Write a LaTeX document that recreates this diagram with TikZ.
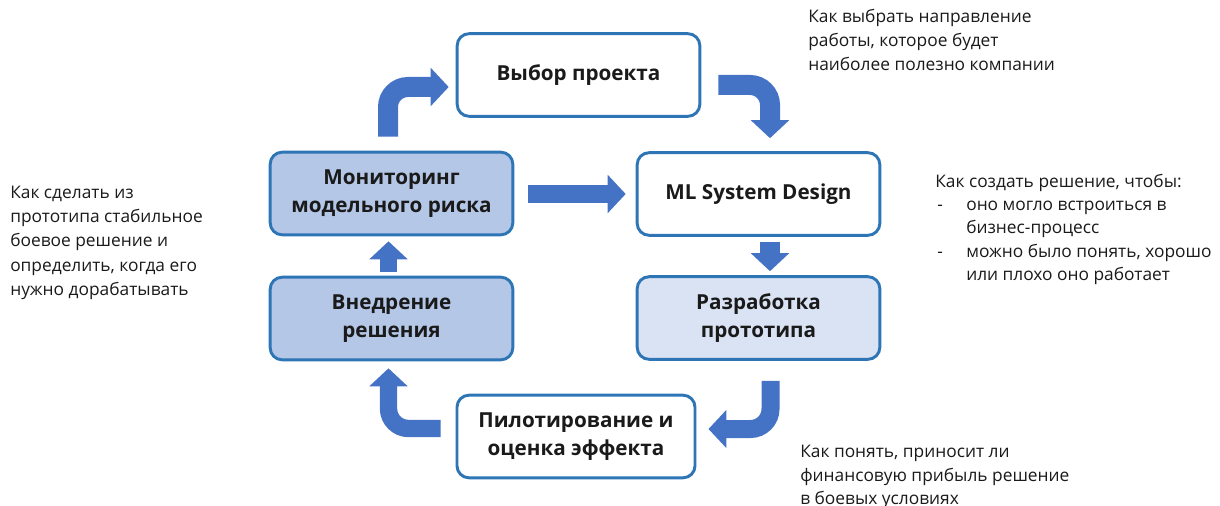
\documentclass[tikz,border=0pt]{standalone}
\usepackage{fontspec}
\setmainfont{Open Sans}
\usetikzlibrary{arrows.meta,calc}
\definecolor{boxline}{HTML}{2E75B6}
\definecolor{arrowblue}{HTML}{4472C4}
\definecolor{fillmid}{HTML}{B4C7E7}
\definecolor{filllight}{HTML}{DAE3F3}
\definecolor{txt}{HTML}{1A1A1A}
\tikzset{
  stagebox/.style={draw=boxline, line width=2.2pt, rounded corners=9pt, fill=white,
    minimum width=182pt, minimum height=62pt, align=center, text=txt,
    font=\bfseries\fontsize{15.5}{21}\selectfont, inner sep=0pt},
  barrow/.style={draw=arrowblue, line width=15pt, line cap=butt, rounded corners=15pt,
    -{Triangle[width=28pt,length=13.5pt]}},
  note/.style={anchor=base west, text=txt, font=\fontsize{13}{18}\selectfont, inner sep=0pt}
}
\begin{document}
\begin{tikzpicture}[x=0.75pt,y=-0.75pt]
\useasboundingbox (0,0) rectangle (1220,506);
% boxes
\node[stagebox] (vyb) at (578.5,75) {Выбор проекта};
\node[stagebox] (ml) at (758.5,194) {ML System Design};
\node[stagebox, fill=fillmid] (mon) at (391.5,193.5) {Мониторинг\\модельного риска};
\node[stagebox, fill=fillmid] (vn) at (391.5,318.5) {Внедрение\\решения};
\node[stagebox, fill=filllight] (raz) at (758.5,318) {Разработка\\прототипа};
\node[stagebox, minimum width=178.5pt] (pil) at (576,436.5) {Пилотирование и\\оценка эффекта};
% arrows
\draw[barrow] ($(mon.north)+(-3.5,-14)$) |- ($(vyb.west)+(-7,12)$);
\draw[barrow] ($(vyb.east)+(17,10)$) -| ($(ml.north)+(11.5,-13)$);
\draw[barrow, line width=13.5pt] ($(mon.east)+(14,0.5)$) -- ($(ml.west)+(-10,0)$);
\draw[barrow] ($(ml.south)+(11.5,5)$) -- ($(raz.north)+(11.5,-4)$);
\draw[barrow, line width=13pt] ($(vn.north)+(-3,-4)$) -- ($(mon.south)+(-3,5)$);
\draw[barrow, line width=13.5pt] ($(raz.south)+(12,20)$) |- ($(pil.east)+(12,-7.5)$);
\draw[barrow, line width=13pt] ($(pil.west)+(-15,-8)$) -| ($(vn.south)+(-3,7)$);
% notes
\node[note] (n1a) at (808,23) {Как выбрать направление};
\node[note] (n1b) at (808,47) {работы, которое будет};
\node[note] (n1c) at (808,71) {наиболее полезно компании};
\node[note] (n2a) at (10,198) {Как сделать из};
\node[note] (n2b) at (10,222) {прототипа стабильное};
\node[note] (n2c) at (10,246) {боевое решение и};
\node[note] (n2d) at (10,271) {определить, когда его};
\node[note] (n2e) at (10,295) {нужно дорабатывать};
\node[note] (n3a) at (935,187) {Как создать решение, чтобы:};
\node[note] (n3b) at (937,210) {-};
\node[note] (n3c) at (966,210) {оно могло встроиться в};
\node[note] (n3d) at (966,233) {бизнес-процесс};
\node[note] (n3e) at (937,257) {-};
\node[note] (n3f) at (966,257) {можно было понять, хорошо};
\node[note] (n3g) at (966,280) {или плохо оно работает};
\node[note] (n4a) at (800,457) {Как понять, приносит ли};
\node[note] (n4b) at (800,481) {финансовую прибыль решение};
\node[note] (n4c) at (800,504) {в боевых условиях};
\end{tikzpicture}
\end{document}
